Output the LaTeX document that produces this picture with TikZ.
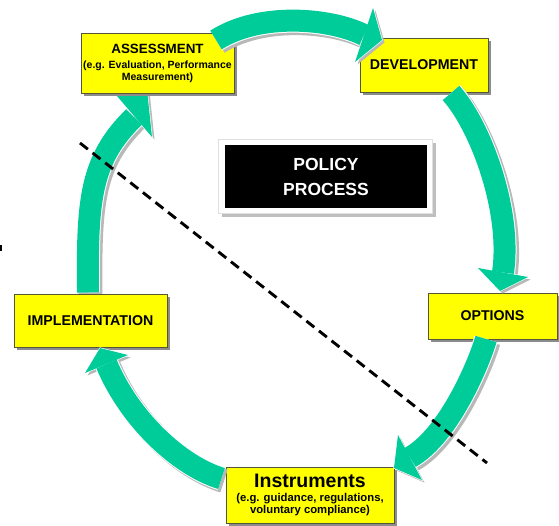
\documentclass[tikz,border=0pt]{standalone}
\usepackage{fontspec}
\setmainfont{Liberation Sans}
\usetikzlibrary{shadows}
\definecolor{arrowteal}{HTML}{00CC99}
\definecolor{boxyellow}{HTML}{FFFF00}
\definecolor{boxedge}{HTML}{55553A}

% curved block arrow: tail, two control points, head base, barb, tip, barb
\newcommand\bentarrow[7]{%
  \begin{scope}[shift={(2.5,2.5)}]
    \draw[bandshadow] (#1) .. controls (#2) and (#3) .. (#4);
    \fill[headshadow] (#5) -- (#6) -- (#7) -- cycle;
  \end{scope}
  \filldraw[tiphead] (#5) -- (#6) -- (#7) -- cycle;
  \draw[band] (#1) .. controls (#2) and (#3) .. (#4);
  \fill[arrowteal] (#5) -- (#6) -- (#7) -- cycle;
}

\begin{document}
\begin{tikzpicture}[x=1pt,y=-1pt,
  ybox/.style={draw=boxedge, line width=0.8pt, fill=boxyellow, inner sep=0pt,
    align=center, text=black,
    drop shadow={shadow xshift=2.5pt, shadow yshift=-2.5pt, fill=black!45, opacity=1}},
  bandshadow/.style={draw=black!28, line width=24pt},
  band/.style={draw=white, double=arrowteal, double distance=22pt, line width=1pt},
  headshadow/.style={fill=black!28},
  tiphead/.style={fill=arrowteal, draw=white, line width=1.2pt, line join=miter},
  cutline/.style={dash pattern=on 10pt off 6pt, line width=2.9pt},
  titlefont/.style={font=\bfseries\fontsize{14.2}{16}\selectfont}]

\useasboundingbox (0,0) rectangle (559,525);
\fill[white] (0,0) rectangle (559,525);

% stray mark at the left edge
\fill[black] (0,245) rectangle (2,251);

% Implementation -> Assessment (passes under the Assessment box)
\bentarrow{88,292.5}{87,200}{90,160}{134,117}{117,96}{146,80}{152,137}

% title box in the middle
\node (policyframe) [draw=black!12, fill=white, minimum width=214pt, minimum height=74pt,
  drop shadow={shadow xshift=4pt, shadow yshift=-4pt, fill=black!25, opacity=1}] at (325,176) {};
\node (policy) [fill=black, minimum width=202pt, minimum height=63pt, text=white, align=center,
  font=\bfseries\fontsize{17.5}{25}\selectfont] at (326,176.5) {POLICY\\PROCESS};

% stage boxes
\node (assess) [ybox, minimum width=153pt, minimum height=60pt] at (157.5,63)
  {{\bfseries\fontsize{13.4}{15}\selectfont ASSESSMENT}\\[3pt]
   {\bfseries\fontsize{10.5}{12}\selectfont (e.g. Evaluation, Performance}\\
   {\bfseries\fontsize{10.5}{12}\selectfont Measurement)}};
\node (devel) [ybox, titlefont, minimum width=128pt, minimum height=54pt] at (424,65) {DEVELOPMENT};
\node (options) [ybox, titlefont, minimum width=129pt, minimum height=46pt] at (492.5,316) {OPTIONS};
\node (impl) [ybox, titlefont, minimum width=153pt, minimum height=53pt] at (90.5,320.5) {IMPLEMENTATION};
\node (instr) [ybox, minimum width=168pt, minimum height=56pt] at (310,495)
  {{\bfseries\fontsize{19.5}{21}\selectfont Instruments}\\[2pt]
   {\bfseries\fontsize{11.3}{15}\selectfont (e.g. guidance, regulations,}\\
   {\bfseries\fontsize{11.3}{15}\selectfont voluntary compliance)}};

% Assessment -> Development
\bentarrow{216,40}{260,12}{330,18}{364,35}{373,8}{382,40}{355,62}
% Development -> Options
\bentarrow{451,93}{480,125}{512,210}{503,272.5}{478,268}{500,291}{528,277}
% Options -> Instruments
\bentarrow{486,339}{480,360}{450,435}{410,457.5}{398,435}{394,468}{422,480}
% Instruments -> Implementation
\bentarrow{221.5,478.5}{180,466}{130,420}{106.5,364}{128,355}{100,348}{85,373}

% dashed dividing line
\coordinate (cutA) at (80,143);
\coordinate (cutB) at (487,463);
\draw[cutline] (cutA) -- (cutB);
\end{tikzpicture}
\end{document}
